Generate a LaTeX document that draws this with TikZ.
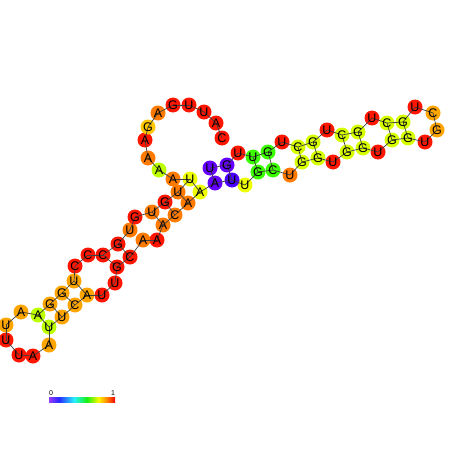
\documentclass[tikz,border=0pt]{standalone}
\usepackage{fontspec}
\setmainfont{Liberation Sans}
\definecolor{redc}{RGB}{255,22,0}
\definecolor{orgA}{RGB}{255,122,0}
\definecolor{orgB}{RGB}{255,165,0}
\definecolor{gold}{RGB}{255,200,0}
\definecolor{yel}{RGB}{238,255,0}
\definecolor{lime}{RGB}{215,255,0}
\definecolor{ygreen}{RGB}{190,255,0}
\definecolor{green}{RGB}{60,255,0}
\definecolor{purp}{RGB}{100,0,255}
\definecolor{blue}{RGB}{75,0,255}
\definecolor{cb0}{RGB}{150,60,255}
\definecolor{cb1}{RGB}{40,40,255}
\definecolor{cb2}{RGB}{40,240,255}
\definecolor{cb3}{RGB}{20,240,20}
\definecolor{cb4}{RGB}{250,250,0}
\definecolor{cb5}{RGB}{255,140,0}
\definecolor{cb6}{RGB}{255,0,0}
\pgfdeclarehorizontalshading{rainbowbar}{100bp}{color(0bp)=(cb0); color(25bp)=(cb0); color(32.5bp)=(cb1); color(44bp)=(cb2); color(53.5bp)=(cb3); color(62.5bp)=(cb4); color(68.5bp)=(cb5); color(75bp)=(cb6); color(100bp)=(cb6)}
\tikzset{
  base/.style={circle, inner sep=0pt, minimum size=15pt, draw=none},
  letter/.style={inner sep=0pt, font=\fontsize{12.5}{12.5}\selectfont},
  bb/.style={draw=black!75, line width=0.7pt},
  cblabel/.style={inner sep=0pt, font=\fontsize{7}{7}\selectfont}
}
\begin{document}
\begin{tikzpicture}[x=1pt,y=-1pt]
\useasboundingbox (0,0) rectangle (452,452);
\foreach \i/\l/\x/\y/\c in {
1/U/210/168/purp, 2/G/227/165/purp, 3/U/238/153/redc, 4/U/253/157/green,
5/G/268/152/green, 6/U/282/142/redc, 7/C/298/147/lime, 8/G/313/142/lime,
9/U/327/130/redc, 10/C/342/135/lime, 11/G/358/132/lime, 12/U/372/118/redc,
13/C/387/123/lime, 14/G/403/122/lime, 15/U/415/107/redc, 16/C/433/113/orgB,
17/G/437/130/orgB, 18/U/425/142/redc, 19/G/408/138/lime, 20/G/392/140/lime,
21/U/378/152/redc, 22/G/363/148/lime, 23/G/347/152/lime, 24/U/333/162/redc,
25/G/318/158/lime, 26/G/302/162/lime, 27/U/290/175/orgA, 28/C/273/170/green,
29/G/258/172/green, 30/U/245/185/yel, 31/U/232/180/blue, 32/A/215/183/purp,
33/A/200/192/yel, 34/A/188/203/orgA, 35/C/175/215/orgA, 36/A/163/225/orgA,
37/A/157/240/redc, 38/A/143/240/orgA, 39/C/130/257/redc, 40/G/117/267/redc,
41/U/115/283/redc, 42/U/102/295/redc, 43/A/87/295/orgB, 44/C/75/305/orgB,
45/U/62/317/orgB, 46/U/49/327/ygreen, 47/A/49/345/orgB, 48/A/33/356/redc,
49/U/19/355/redc, 50/U/6/340/redc, 51/U/6/325/orgB, 52/A/21/312/orgB,
53/A/38/315/ygreen, 54/G/50/304/orgB, 55/G/62/293/orgB, 56/U/74/281/orgB,
57/C/75/266/redc, 58/C/88/255/redc, 59/C/103/255/redc, 60/G/118/244/redc,
61/U/130/230/orgA, 62/G/135/217/redc, 63/U/152/212/orgA, 64/G/165/202/redc,
65/U/178/192/orgA, 66/U/190/179/yel, 67/A/173/179/orgA, 68/A/159/170/ygreen,
69/A/148/158/orgA, 70/A/145/140/redc, 71/G/148/127/gold, 72/A/158/113/orgA,
73/G/173/105/redc, 74/U/189/105/redc, 75/U/204/112/redc, 76/A/216/123/redc,
77/C/222/138/redc}{
  \node[base, fill=\c] (n\i) at (\x,\y) {};
  \expandafter\xdef\csname lt\i\endcsname{\l}
}
% backbone
\foreach \i [evaluate=\i as \j using int(\i+1)] in {1,...,76}{
  \draw[bb] (n\i.center) -- (n\j.center);
}
% base pairs
\foreach \a/\b in {1/32, 2/31, 4/29, 5/28, 7/26, 8/25, 10/23, 11/22, 13/20, 14/19,
  33/66, 34/65, 35/64, 36/63, 39/60, 40/59, 43/56, 44/55, 45/54, 46/53}{
  \draw[bb] (n\a.center) -- (n\b.center);
}
% letters
\foreach \i in {1,...,77}{
  \node[letter] (t\i) at (n\i.center) {\csname lt\i\endcsname};
}
% colour bar
\node[cblabel] (lab0) at (51,393) {0};
\node[cblabel] (lab1) at (113,393) {1};
\shade[shading=rainbowbar] (49,397) rectangle (115,402.5);
\end{tikzpicture}
\end{document}
